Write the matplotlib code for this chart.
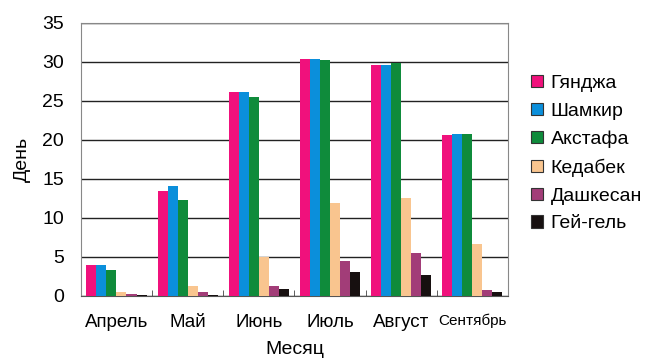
import numpy as np
import matplotlib.pyplot as plt

plt.rcParams['font.family'] = ['Liberation Sans', 'DejaVu Sans']

months = ['Апрель', 'Май', 'Июнь', 'Июль', 'Август', 'Сентябрь']
stations = ['Гянджа', 'Шамкир', 'Акстафа', 'Кедабек', 'Дашкесан', 'Гей-гель']

gyanja = [3.9, 13.5, 26.2, 30.4, 29.6, 20.6]
shamkir = [3.9, 14.1, 26.2, 30.4, 29.6, 20.7]
akstafa = [3.3, 12.3, 25.5, 30.3, 29.8, 20.7]
kedabek = [0.5, 1.2, 5.0, 11.85, 12.6, 6.7]
dashkesan = [0.2, 0.5, 1.2, 4.5, 5.5, 0.75]
geygel = [0.12, 0.17, 0.85, 3.1, 2.65, 0.47]

colors = ['#f0117c', '#0b8fdb', '#0f8b3b', '#f9c58f', '#a23d78', '#171010']

series = [gyanja, shamkir, akstafa, kedabek, dashkesan, geygel]

fig = plt.figure(figsize=(6.52, 3.63), dpi=100)
ax = fig.add_axes([0.124, 0.185, 0.655, 0.752])

x = np.arange(len(months))
w = 0.141
for i, (vals, c, name) in enumerate(zip(series, colors, stations)):
    ax.bar(x + (i - 2.5) * w, vals, w, color=c, label=name, zorder=3)

ax.set_xlim(-0.5, len(months) - 0.5)
ax.set_ylim(0, 35)
ax.set_yticks(range(0, 36, 5))
ax.yaxis.grid(True, color='#222222', linewidth=1.0, zorder=0)
ax.set_xticks(x)
ax.set_xticklabels(months, fontsize=13.5)
ax.get_xticklabels()[-1].set_fontsize(11)
ax.set_xticks(np.arange(0.5, len(months) - 1, 1), minor=True)
ax.tick_params(axis='x', which='major', length=0, pad=13)
ax.tick_params(axis='x', which='minor', length=4, direction='in', color='#444444')
ax.tick_params(axis='y', length=0, labelsize=14, pad=12)

for s in ax.spines.values():
    s.set_color('#888888')
ax.spines['bottom'].set_color('#555555')

ax.set_ylabel('День', fontsize=14, labelpad=8)
ax.set_xlabel('Месяц', fontsize=14, labelpad=7)

leg = ax.legend(loc='upper left', bbox_to_anchor=(1.0, 0.895), frameon=False,
                fontsize=14, handlelength=0.6, handleheight=0.6, handletextpad=0.4,
                labelspacing=0.55, borderaxespad=0.8)
for h in leg.legend_handles:
    h.set_edgecolor('#333333')
    h.set_linewidth(0.8)

fig.savefig('out.png', dpi=100)
